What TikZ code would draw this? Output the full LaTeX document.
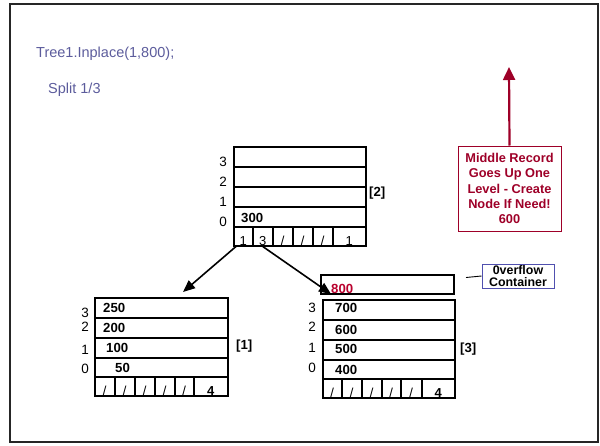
\documentclass[tikz,border=0pt]{standalone}
\usepackage{fontspec}
\setmainfont{Liberation Sans}
\usetikzlibrary{arrows.meta,calc}
\definecolor{titlecol}{RGB}{92,92,156}
\definecolor{noteRed}{RGB}{158,0,40}
\definecolor{valRed}{RGB}{185,0,45}
\definecolor{noteBlue}{RGB}{80,80,175}
\def\SL{/}
\begin{document}
\begin{tikzpicture}[x=1pt,y=-1pt,
  rowbox/.style={draw, line width=1.5pt, inner sep=0pt, anchor=north west},
  lvl/.style={anchor=base east, inner sep=0pt, font=\fontsize{13.5}{15}\selectfont},
  val/.style={anchor=base west, inner sep=0pt, font=\fontsize{13.2}{15}\selectfont\bfseries},
  tag/.style={anchor=base west, inner sep=0pt, font=\fontsize{13.2}{15}\selectfont\bfseries},
  celltxt/.style={anchor=base, inner sep=0pt, font=\fontsize{13}{15}\selectfont},
  title/.style={anchor=base west, inner sep=0pt, text=titlecol, font=\fontsize{14.5}{17}\selectfont},
  ptr/.style={line width=1.6pt, -{Triangle[length=12pt,width=10pt]}}
]
\useasboundingbox (0,0) rectangle (600,445);
\draw[line width=1.6pt, black!85] (10,4) rectangle (598,442);

% titles
\node[title] (t1) at (36,57.5) {Tree1.Inplace(1,800);};
\node[title] (t2) at (48,93.5) {Split 1/3};

% ---- top node [2]
\foreach \n/\y in {3/146,2/166,1/186,0/206}
  \node[rowbox, minimum width=132pt, minimum height=20pt] (T\n) at (233,\y) {};
\foreach \a/\b/\txt [count=\i] in {233/252/1,252/272/3,272/292/\SL,292/312/\SL,312/332/\SL,332/365/1}{
  \pgfmathsetmacro\w{\b-\a}
  \node[rowbox, minimum width=\w pt, minimum height=19pt] (Tc\i) at (\a,226) {};
  \node[celltxt] (Tt\i) at ($(Tc\i.south)+(0,-1)$) {\txt};
}
\foreach \n/\y in {3/166,2/186,1/206,0/226}
  \node[lvl] (Tl\n) at (227,\y) {\n};
\node[val] (Tv0) at (241,222) {300};
\node[tag] (Tg) at (369,196) {[2]};

% ---- left node [1]
\foreach \n/\y/\h in {3/297/20,2/317/20,1/337/20,0/357/19}
  \node[rowbox, minimum width=133pt, minimum height=\h pt] (L\n) at (94,\y) {};
\foreach \a/\b/\txt [count=\i] in {94/114/\SL,114/134/\SL,134/154/\SL,154/174/\SL,174/193/\SL,193/227/\textbf{4}}{
  \pgfmathsetmacro\w{\b-\a}
  \node[rowbox, minimum width=\w pt, minimum height=19pt] (Lc\i) at (\a,376) {};
  \node[celltxt] (Lt\i) at ($(Lc\i.south)+(0,-1)$) {\txt};
}
\foreach \n/\y in {3/317,2/331,1/354,0/373}
  \node[lvl] (Ll\n) at (89,\y) {\n};
\node[val] (Lv3) at (103,312) {250};
\node[val] (Lv2) at (103,332) {200};
\node[val] (Lv1) at (106,352) {100};
\node[val] (Lv0) at (115,372) {50};
\node[tag] (Lg) at (236,349) {[1]};

% ---- right node [3]
\node[rowbox, minimum width=133pt, minimum height=19pt] (OF) at (320,274) {};
\node[val, text=valRed] (OFv) at (331,293) {800};
\foreach \n/\y/\h in {3/299/20,2/319/20,1/339/20,0/359/19}
  \node[rowbox, minimum width=132pt, minimum height=\h pt] (R\n) at (322,\y) {};
\foreach \a/\b/\txt [count=\i] in {322/341/\SL,341/361/\SL,361/381/\SL,381/400/\SL,400/421/\SL,421/454/\textbf{4}}{
  \pgfmathsetmacro\w{\b-\a}
  \node[rowbox, minimum width=\w pt, minimum height=19pt] (Rc\i) at (\a,378) {};
  \node[celltxt] (Rt\i) at ($(Rc\i.south)+(0,-1)$) {\txt};
}
\foreach \n/\y in {3/312,2/331,1/352,0/372}
  \node[lvl] (Rl\n) at (316,\y) {\n};
\node[val] (Rv3) at (335,312) {700};
\node[val] (Rv2) at (335,334) {600};
\node[val] (Rv1) at (335,353) {500};
\node[val] (Rv0) at (335,374) {400};
\node[tag] (Rg) at (460,352) {[3]};

% ---- pointers
\coordinate (lt) at (183,292);
\coordinate (rt) at (331,294);
\draw[ptr] ($(Tc1.south west)+(3,0)$) -- (lt);
\draw[ptr] ($(Tc2.south)$) -- (rt);

% ---- overflow note
\node[draw=noteBlue, line width=1pt, minimum width=72pt, minimum height=24pt, inner sep=1pt,
      align=center, font=\fontsize{12.4}{12.5}\selectfont\bfseries] (ovn) at (518,276) {0verflow\\Container};
\coordinate (ofc) at (466,277.5);
\draw[line width=0.9pt] (ofc) -- (ovn.west);

% ---- red note
\node[draw=noteRed, line width=1pt, minimum width=103pt, minimum height=85pt, inner sep=0pt,
      align=center, text=noteRed, font=\fontsize{12.8}{15.3}\selectfont\bfseries] (red) at (509.5,188.5)
      {Middle Record\\Goes Up One\\Level - Create\\Node If Need!\\600};
\coordinate (up) at (509,67);
\draw[noteRed, line width=2.2pt, -{Triangle[length=13pt,width=12pt]}] (red.north) -- (up);
\end{tikzpicture}
\end{document}
